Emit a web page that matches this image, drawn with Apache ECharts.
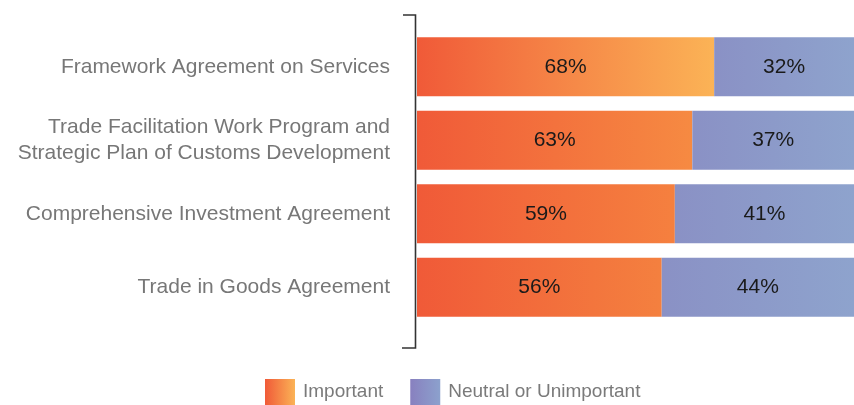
<!DOCTYPE html>
<html>
<head>
<meta charset="utf-8">
<script src="https://cdn.jsdelivr.net/npm/echarts@6/dist/echarts.min.js"></script>
<style>html,body{margin:0;padding:0;background:#fff;}#c{width:854px;height:405px;}</style>
</head>
<body>
<div id="c"></div>
<script>
const categories = [
  'Framework Agreement on Services',
  'Trade Facilitation Work Program and\nStrategic Plan of Customs Development',
  'Comprehensive Investment Agreement',
  'Trade in Goods Agreement'
];
const important = [68, 63, 59, 56];
const neutral = [32, 37, 41, 44];
const seriesNames = ['Important', 'Neutral or Unimportant'];

const orangeStart = '#F05A38';
const orangeEnds = ['#FBB356', '#F68A42', '#F5803F', '#F4803F'];
const blueStart = '#8A91C5';
const blueEnd = '#8EA3CD';

function grad(a, b) {
  return new echarts.graphic.LinearGradient(0, 0, 1, 0, [
    { offset: 0, color: a }, { offset: 1, color: b }
  ]);
}

const chart = echarts.init(document.getElementById('c'), null, { renderer: 'canvas' });
const labelStyle = { show: true, position: 'inside', color: '#1a1a1a', fontSize: 21,
  fontFamily: 'Liberation Sans, Arial, sans-serif', formatter: p => p.value + '%' };

chart.setOption({
  animation: false,
  textStyle: { fontFamily: 'Liberation Sans, Arial, sans-serif' },
  grid: { left: 417, right: 0, top: 30, bottom: 81, containLabel: false },
  legend: {
    left: 265, top: 379, padding: 0,
    itemWidth: 30, itemHeight: 26, itemGap: 27,
    textStyle: { color: '#7a7a7a', fontSize: 19, padding: [7, 0, 0, 3] },
    data: [
      { name: seriesNames[0], icon: 'rect', itemStyle: { color: grad('#F05A38', '#FBB356') } },
      { name: seriesNames[1], icon: 'rect', itemStyle: { color: grad('#8880BF', '#8CA1CD') } }
    ]
  },
  xAxis: { type: 'value', min: 0, max: 100, show: false },
  yAxis: {
    type: 'category', data: categories, inverse: true,
    axisLine: { show: false }, axisTick: { show: false },
    axisLabel: { color: '#777777', fontSize: 21, margin: 27, lineHeight: 26, align: 'right' }
  },
  series: [
    {
      name: seriesNames[0], type: 'bar', stack: 'a', barCategoryGap: '19.5%',
      itemStyle: { color: grad(orangeStart, '#FBB356') },
      label: labelStyle,
      data: important.map((v, i) => ({ value: v, itemStyle: { color: grad(orangeStart, orangeEnds[i]) } }))
    },
    {
      name: seriesNames[1], type: 'bar', stack: 'a', barCategoryGap: '19.5%',
      itemStyle: { color: grad(blueStart, blueEnd) },
      label: labelStyle,
      data: neutral
    }
  ],
  graphic: [{
    type: 'polyline',
    shape: { points: [[403, 15], [415.5, 15], [415.5, 348], [402, 348]] },
    style: { stroke: '#333333', lineWidth: 1.6, fill: null }
  }]
});
</script>
</body>
</html>
